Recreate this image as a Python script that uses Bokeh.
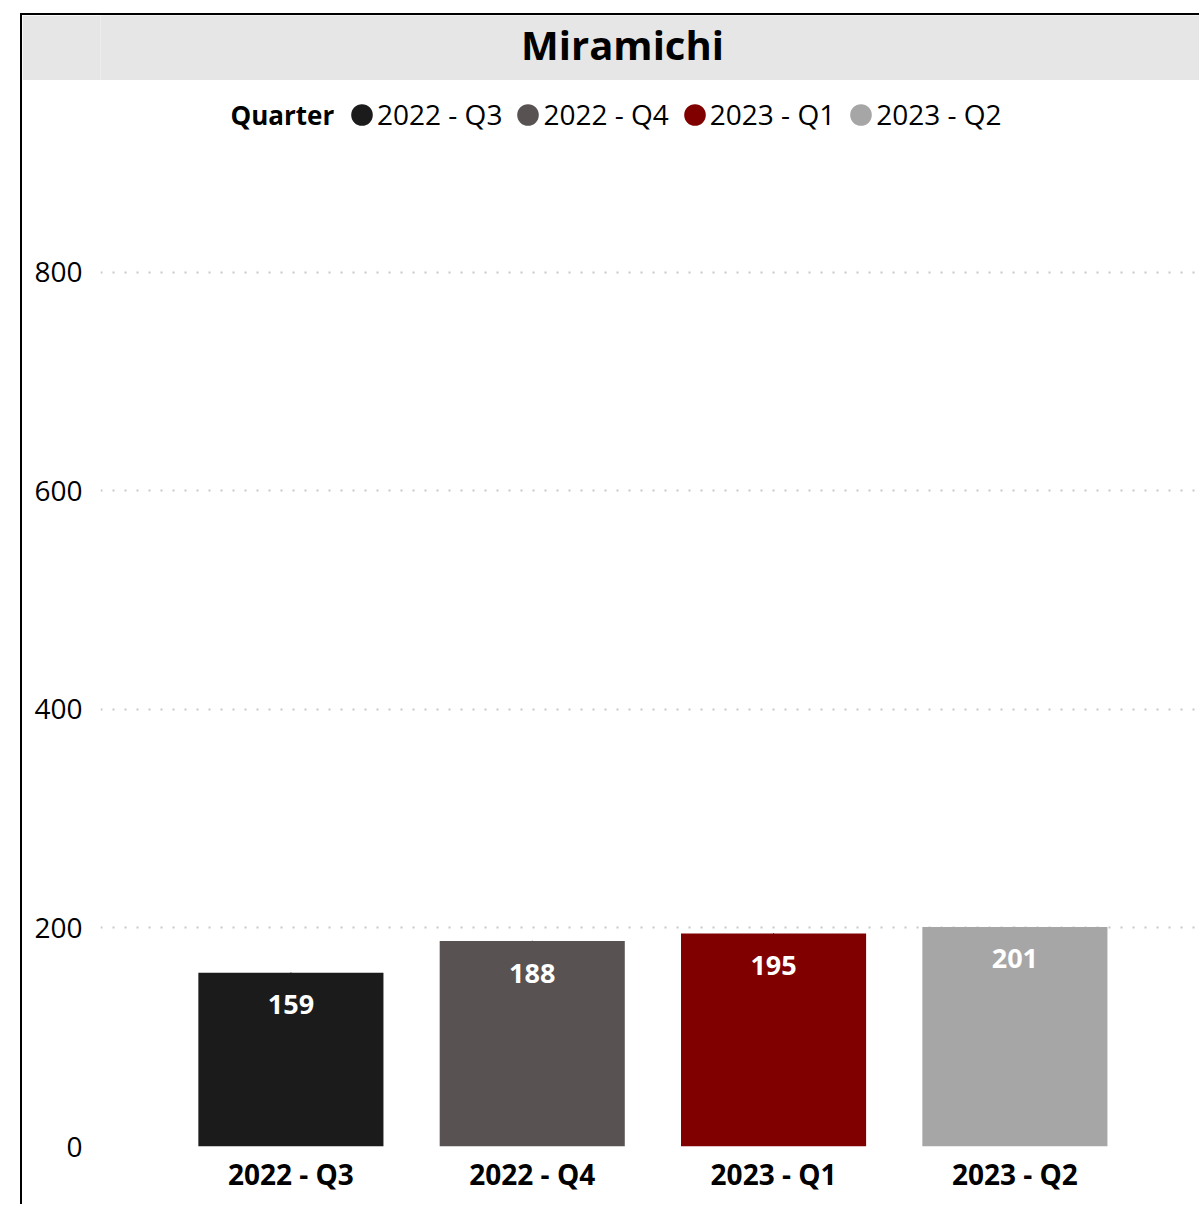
from bokeh.plotting import figure
from bokeh.layouts import column
from bokeh.models import (ColumnDataSource, Range1d, FixedTicker, Label, Legend, LegendItem)
from bokeh.core.properties import value
from bokeh.embed import file_html
from bokeh.resources import INLINE

# ---- data ----
chart_title = "Miramichi"
legend_title = "Quarter"
quarters = ["2022 - Q3", "2022 - Q4", "2023 - Q1", "2023 - Q2"]
counts = [159, 188, 195, 201]
colors = ["#1b1b1b", "#585252", "#800000", "#a6a6a6"]
y_ticks = [0, 200, 400, 600, 800]

FONT = "Open Sans"

idx = list(range(len(quarters)))
src = ColumnDataSource(dict(
    x=idx, top=counts, color=colors, q=quarters,
    lab=[str(v) for v in counts],
))

# ---- header band with the title ----
header = figure(width=1177, height=65, output_backend="svg", toolbar_location=None,
                x_range=Range1d(0, 1), y_range=Range1d(0, 1), min_border=0,
                x_axis_location=None, y_axis_location=None)
header.grid.visible = False
header.outline_line_color = None
header.background_fill_color = "#e6e6e6"
header.border_fill_color = "#e6e6e6"
header.add_layout(Label(x=522, y=36, x_units="screen", y_units="screen",
                        text=chart_title, text_align="center",
                        text_baseline="middle", text_font=FONT, text_font_style="bold",
                        text_font_size="40px", text_color="#000000"))

# ---- main chart ----
p = figure(width=1177, height=1124, output_backend="svg", toolbar_location=None,
           x_range=Range1d(-0.789, 3.765), y_range=Range1d(0, 975.7),
           min_border_left=78, min_border_right=0, min_border_top=0,
           min_border_bottom=58)
p.outline_line_color = None
p.background_fill_color = "white"
p.border_fill_color = "white"

# tiny ellipses (hidden under the bar tops) that provide the round legend glyphs
el = p.ellipse(x="x", y="top", width=1, height=1, width_units="screen",
               height_units="screen", fill_color="color", line_color=None, source=src)

# bars
p.vbar(x="x", top="top", width=0.767, fill_color="color", line_color=None, source=src)

# value labels
p.text(x="x", y="top", text="lab", source=src, text_color="white",
       text_font=value(FONT), text_font_style="bold", text_font_size="27px",
       text_align="center", text_baseline="middle", y_offset=32)

# axes
p.yaxis.ticker = FixedTicker(ticks=y_ticks)
p.yaxis.axis_line_color = None
p.yaxis.major_tick_line_color = None
p.yaxis.minor_tick_line_color = None
p.yaxis.major_tick_out = 0
p.yaxis.major_label_standoff = 18
p.yaxis.major_label_text_font = FONT
p.yaxis.major_label_text_font_size = "28px"
p.yaxis.major_label_text_color = "#000000"

p.xaxis.ticker = FixedTicker(ticks=idx)
p.xaxis.major_label_overrides = {i: q for i, q in zip(idx, quarters)}
p.xaxis.axis_line_color = None
p.xaxis.major_tick_line_color = None
p.xaxis.minor_tick_line_color = None
p.xaxis.major_tick_out = 0
p.xaxis.major_label_standoff = 8
p.xaxis.major_label_text_font = FONT
p.xaxis.major_label_text_font_style = "bold"
p.xaxis.major_label_text_font_size = "28px"
p.xaxis.major_label_text_color = "#000000"

# grid
p.xgrid.grid_line_color = None
p.ygrid.ticker = FixedTicker(ticks=y_ticks)
p.ygrid.grid_line_color = "#c8c8c8"
p.ygrid.grid_line_dash = "2 10"
p.ygrid.grid_line_width = 2

# legend
p.add_layout(Label(x=130, y=1032, x_units="screen", y_units="screen",
                   text=legend_title, text_align="left", text_baseline="middle",
                   text_font=FONT, text_font_style="bold", text_font_size="26px",
                   text_color="#000000"))

legend = Legend(items=[LegendItem(label=q, renderers=[el], index=i)
                       for i, q in enumerate(quarters)],
                orientation="horizontal", location=(248, 1012),
                glyph_width=27, glyph_height=27, label_standoff=2, spacing=12,
                label_height=40, padding=0, margin=0, border_line_color=None,
                background_fill_alpha=0,
                label_text_font=FONT, label_text_font_size="28px",
                label_text_color="#000000")
p.add_layout(legend)

layout = column(header, p, spacing=0, margin=(13, 0, 0, 20),
                styles={"border-top": "2px solid #000000",
                        "border-left": "2px solid #000000"})

open("out.html", "w").write(file_html(layout, INLINE))
